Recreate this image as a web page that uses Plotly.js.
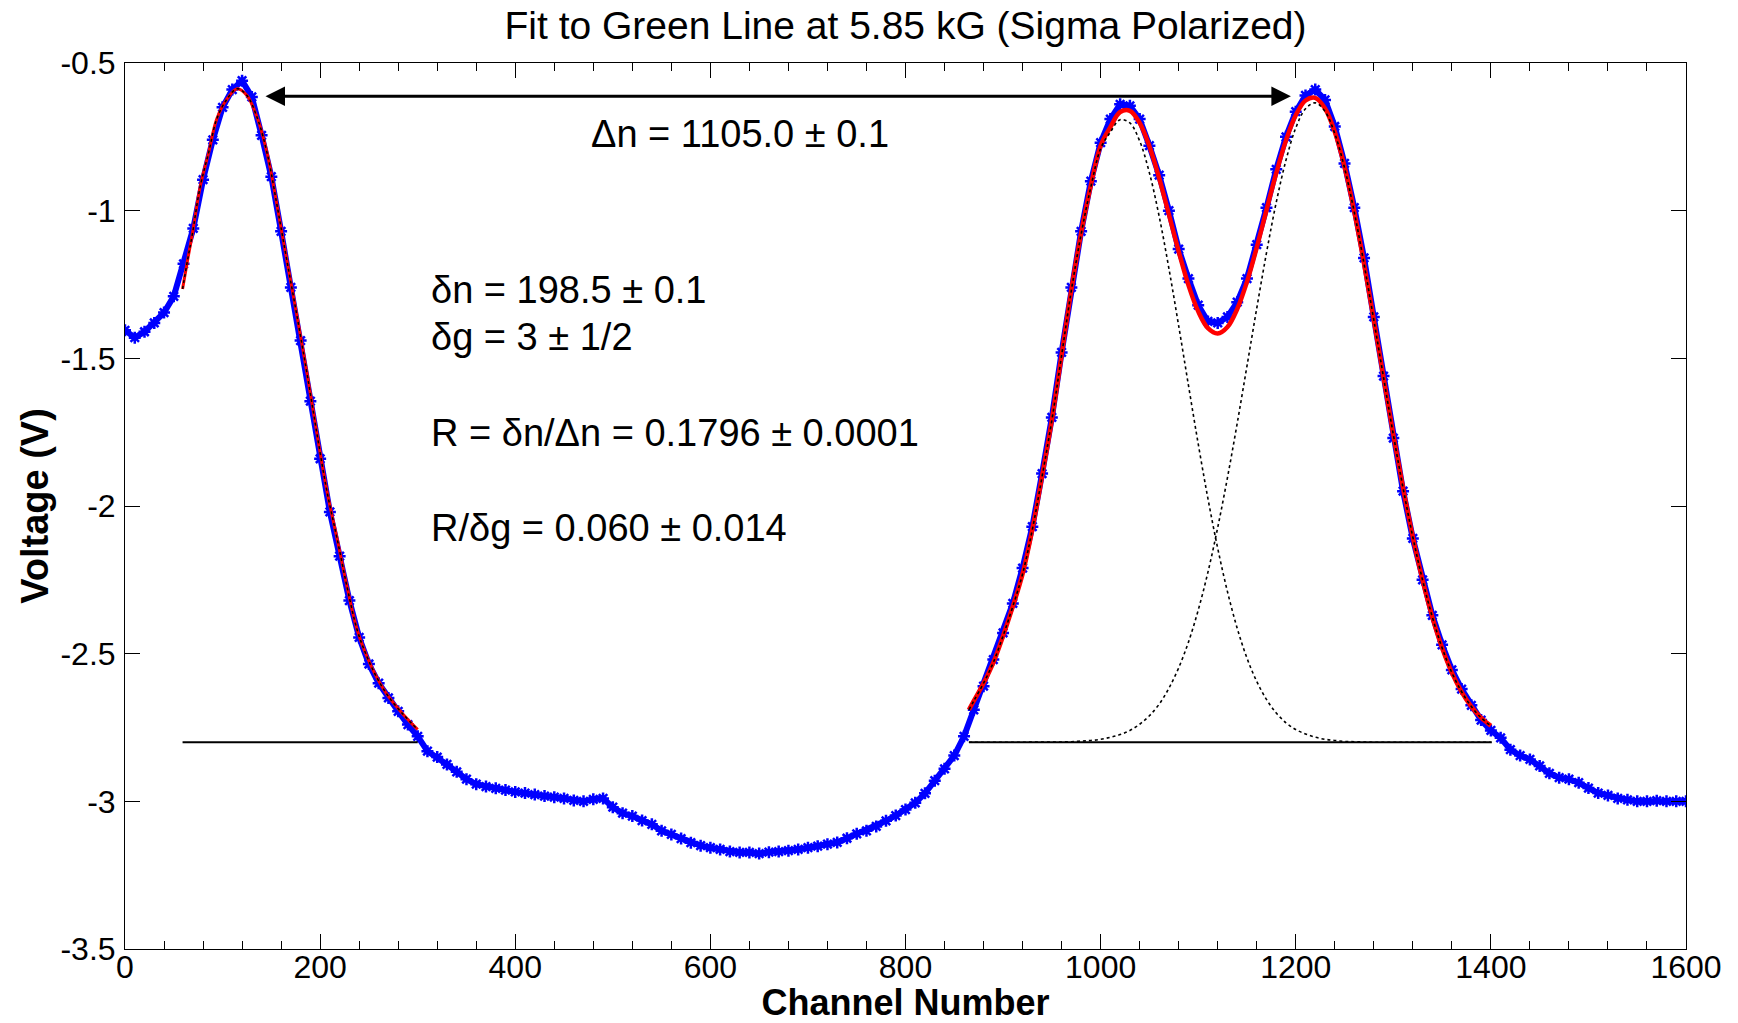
<!DOCTYPE html>
<html><head><meta charset="utf-8">
<script src="https://cdn.plot.ly/plotly-3.0.1.min.js"></script>
<style>html,body{margin:0;padding:0;background:#fff}#chart{width:1738px;height:1023px}</style>
</head><body><div id="chart"></div>
<script>
const channel = [0,10,20,30,40,50,60,70,80,90,100,110,120,130,140,150,160,170,180,190,200,210,220,230,240,250,260,270,280,290,300,310,320,330,340,350,360,370,380,390,400,410,420,430,440,450,460,470,480,490,500,510,520,530,540,550,560,570,580,590,600,610,620,630,640,650,660,670,680,690,700,710,720,730,740,750,760,770,780,790,800,810,820,830,840,850,860,870,880,890,900,910,920,930,940,950,960,970,980,990,1000,1010,1020,1030,1040,1050,1060,1070,1080,1090,1100,1110,1120,1130,1140,1150,1160,1170,1180,1190,1200,1210,1220,1230,1240,1250,1260,1270,1280,1290,1300,1310,1320,1330,1340,1350,1360,1370,1380,1390,1400,1410,1420,1430,1440,1450,1460,1470,1480,1490,1500,1510,1520,1530,1540,1550,1560,1570,1580,1590,1600];
const voltage = [-1.405,-1.43,-1.41,-1.38,-1.345,-1.29,-1.18,-1.06,-0.895,-0.76,-0.65,-0.59,-0.56,-0.615,-0.745,-0.885,-1.07,-1.26,-1.44,-1.645,-1.84,-2.02,-2.17,-2.32,-2.445,-2.535,-2.60,-2.65,-2.695,-2.74,-2.78,-2.83,-2.85,-2.875,-2.90,-2.925,-2.942,-2.95,-2.956,-2.962,-2.968,-2.972,-2.977,-2.982,-2.986,-2.99,-2.997,-3.0,-2.993,-2.99,-3.02,-3.04,-3.05,-3.065,-3.078,-3.10,-3.112,-3.126,-3.14,-3.15,-3.157,-3.163,-3.17,-3.173,-3.173,-3.177,-3.172,-3.17,-3.167,-3.163,-3.157,-3.152,-3.145,-3.139,-3.125,-3.11,-3.10,-3.085,-3.066,-3.048,-3.028,-3.005,-2.973,-2.93,-2.89,-2.845,-2.78,-2.69,-2.61,-2.52,-2.43,-2.33,-2.21,-2.07,-1.89,-1.70,-1.48,-1.26,-1.07,-0.90,-0.77,-0.69,-0.64,-0.645,-0.69,-0.78,-0.88,-1.00,-1.13,-1.23,-1.32,-1.375,-1.38,-1.36,-1.31,-1.23,-1.115,-0.99,-0.86,-0.75,-0.665,-0.61,-0.59,-0.625,-0.715,-0.84,-0.99,-1.16,-1.36,-1.56,-1.77,-1.95,-2.11,-2.25,-2.37,-2.47,-2.555,-2.62,-2.675,-2.725,-2.76,-2.785,-2.825,-2.845,-2.858,-2.88,-2.905,-2.92,-2.925,-2.937,-2.955,-2.972,-2.98,-2.99,-2.995,-3.0,-3.0,-2.998,-3.0,-3.0,-3.0];

// Fit to the left line (single peak)
const fitLeftX = [59,64,69,77,86,94,105,115,125,136,146,156,166,177,187,197,207,218,228,238,248,258,270,285,300];
const fitLeftY = [-1.265,-1.17,-1.08,-0.92,-0.80,-0.69,-0.62,-0.587,-0.61,-0.69,-0.81,-0.985,-1.17,-1.37,-1.56,-1.76,-1.95,-2.12,-2.28,-2.42,-2.51,-2.58,-2.645,-2.705,-2.757];

// Fit to the right pair of lines (sum) and its two components
const fitRightX = [865,870,880,890,900,910,920,930,940,950,960,970,980,990,1000,1010,1020,1030,1040,1050,1060,1070,1080,1090,1100,1110,1120,1130,1140,1150,1160,1170,1180,1190,1200,1210,1220,1230,1240,1250,1260,1270,1280,1290,1300,1310,1320,1330,1340,1350,1360,1370,1380,1390,1400];
const fitRightY = [-2.69,-2.66,-2.60,-2.53,-2.44,-2.34,-2.23,-2.079,-1.899,-1.709,-1.489,-1.268,-1.076,-0.914,-0.780,-0.717,-0.666,-0.662,-0.703,-0.782,-0.890,-1.013,-1.138,-1.252,-1.341,-1.398,-1.416,-1.394,-1.333,-1.241,-1.125,-0.998,-0.873,-0.762,-0.677,-0.627,-0.618,-0.654,-0.733,-0.851,-1.003,-1.179,-1.370,-1.565,-1.758,-1.939,-2.105,-2.251,-2.376,-2.480,-2.564,-2.629,-2.679,-2.717,-2.744];
const compAY = [-2.69,-2.66,-2.60,-2.53,-2.44,-2.34,-2.23,-2.08,-1.90,-1.71,-1.49,-1.27,-1.08,-0.92,-0.79,-0.734,-0.692,-0.703,-0.764,-0.872,-1.019,-1.196,-1.390,-1.591,-1.789,-1.975,-2.143,-2.290,-2.414,-2.515,-2.594,-2.655,-2.701,-2.734,-2.757,-2.772,-2.783,-2.790,-2.794,-2.797,-2.798,-2.799,-2.80,-2.80,-2.80,-2.80,-2.80,-2.80,-2.80,-2.80,-2.80,-2.80,-2.80,-2.80,-2.80];
const compBY = [-2.80,-2.80,-2.80,-2.80,-2.80,-2.80,-2.80,-2.799,-2.799,-2.799,-2.799,-2.798,-2.796,-2.794,-2.790,-2.783,-2.774,-2.760,-2.739,-2.710,-2.671,-2.617,-2.548,-2.461,-2.353,-2.224,-2.073,-1.904,-1.720,-1.526,-1.331,-1.143,-0.972,-0.829,-0.720,-0.655,-0.635,-0.664,-0.739,-0.855,-1.005,-1.180,-1.370,-1.565,-1.758,-1.939,-2.105,-2.251,-2.376,-2.480,-2.564,-2.629,-2.679,-2.717,-2.744];

// Baselines of the fits
const baseLeftX = [59, 300];
const baseRightX = [865, 1401];
const baseY = [-2.8, -2.8];

// Arrow marking Δn between the outer peaks
const arrowX = [142.5, 1195];
const arrowY = -0.613;

// Axis ticks
const xTicks = [0,200,400,600,800,1000,1200,1400,1600];
const yTickVals = [-3.5,-3,-2.5,-2,-1.5,-1,-0.5];
const yTickText = ['-3.5','-3','-2.5','-2','-1.5','-1','-0.5'];

// Text notes
const noteText = ['\u0394n = 1105.0 \u00b1 0.1','\u03b4n = 198.5 \u00b1 0.1','\u03b4g = 3 \u00b1 1/2','R = \u03b4n/\u0394n = 0.1796 \u00b1 0.0001','R/\u03b4g = 0.060 \u00b1 0.014'];
const noteX = [476, 312, 312, 312, 312];
const noteY = [-0.74, -1.269, -1.428, -1.753, -2.075];

const FONT = 'Liberation Sans, Arial, Helvetica, sans-serif';
const blue = '#0000ff';

const traces = [
  {x: channel, y: voltage, type: 'scatter', mode: 'lines+markers',
   line: {color: blue, width: 6},
   marker: {symbol: 'asterisk-open', size: 10, color: blue, line: {color: blue, width: 2.5}},
   hoverinfo: 'skip', showlegend: false},
  {x: fitLeftX, y: fitLeftY, type: 'scatter', mode: 'lines', line: {color: '#ff0000', width: 3, shape: 'spline'}, showlegend: false},
  {x: fitRightX, y: fitRightY, type: 'scatter', mode: 'lines', line: {color: '#ff0000', width: 4.5, shape: 'spline'}, showlegend: false},
  {x: fitLeftX, y: fitLeftY, type: 'scatter', mode: 'lines', line: {color: '#000', width: 1.5, dash: 'dot', shape: 'spline'}, showlegend: false},
  {x: fitRightX, y: compAY, type: 'scatter', mode: 'lines', line: {color: '#000', width: 1.6, dash: 'dot', shape: 'spline'}, showlegend: false},
  {x: fitRightX, y: compBY, type: 'scatter', mode: 'lines', line: {color: '#000', width: 1.6, dash: 'dot', shape: 'spline'}, showlegend: false},
  {x: baseLeftX, y: baseY, type: 'scatter', mode: 'lines', line: {color: '#000', width: 2.2}, showlegend: false},
  {x: baseRightX, y: baseY, type: 'scatter', mode: 'lines', line: {color: '#000', width: 2.2}, showlegend: false}
];

const annotations = noteText.map((t, i) => ({
  x: noteX[i], y: noteY[i], xref: 'x', yref: 'y', text: t, showarrow: false,
  xanchor: 'left', yanchor: 'middle', font: {family: FONT, size: 38, color: '#000'}
}));
annotations.push({
  x: arrowX[1], y: arrowY, ax: arrowX[0], ay: arrowY, xref: 'x', yref: 'y', axref: 'x', ayref: 'y',
  text: '', showarrow: true, arrowside: 'end+start', arrowhead: 2, arrowsize: 1.3, arrowwidth: 3, arrowcolor: '#000',
  standoff: 0, startstandoff: 0
});

const layout = {
  width: 1738, height: 1023,
  paper_bgcolor: '#fff', plot_bgcolor: '#fff',
  margin: {l: 125, r: 52, t: 63, b: 74, pad: 0},
  font: {family: FONT, color: '#000'},
  title: {text: 'Fit to Green Line at 5.85 kG (Sigma Polarized)', font: {family: FONT, size: 39, color: '#000'},
          x: 0.5, xref: 'paper', xanchor: 'center', y: 1 - 25/1023, yref: 'container', yanchor: 'middle'},
  xaxis: {range: [0, 1600], tickvals: xTicks, ticks: 'inside', ticklen: 15, tickwidth: 1, tickcolor: '#000',
          showline: true, linecolor: '#000', linewidth: 1, mirror: 'allticks', showgrid: false, zeroline: false,
          minor: {dtick: 40, tick0: 0, ticks: 'inside', ticklen: 8, tickcolor: '#000', tickwidth: 1, showgrid: false},
          tickfont: {family: FONT, size: 32, color: '#000'}, ticklabelstandoff: -10,
          title: {text: 'Channel Number', font: {family: FONT, size: 36, color: '#000', weight: 'bold'}, standoff: 7},
          automargin: false},
  yaxis: {range: [-3.5, -0.5], tickvals: yTickVals, ticktext: yTickText, ticks: 'inside', ticklen: 15, tickwidth: 1, tickcolor: '#000',
          showline: true, linecolor: '#000', linewidth: 1, mirror: 'allticks', showgrid: false, zeroline: false,
          tickfont: {family: FONT, size: 32, color: '#000'}, ticklabelstandoff: 2,
          title: {text: 'Voltage (V)', font: {family: FONT, size: 38, color: '#000', weight: 'bold'}, standoff: 0},
          automargin: false},
  annotations: annotations,
  showlegend: false
};

Plotly.newPlot('chart', traces, layout, {staticPlot: true, displayModeBar: false});
</script>
</body></html>
